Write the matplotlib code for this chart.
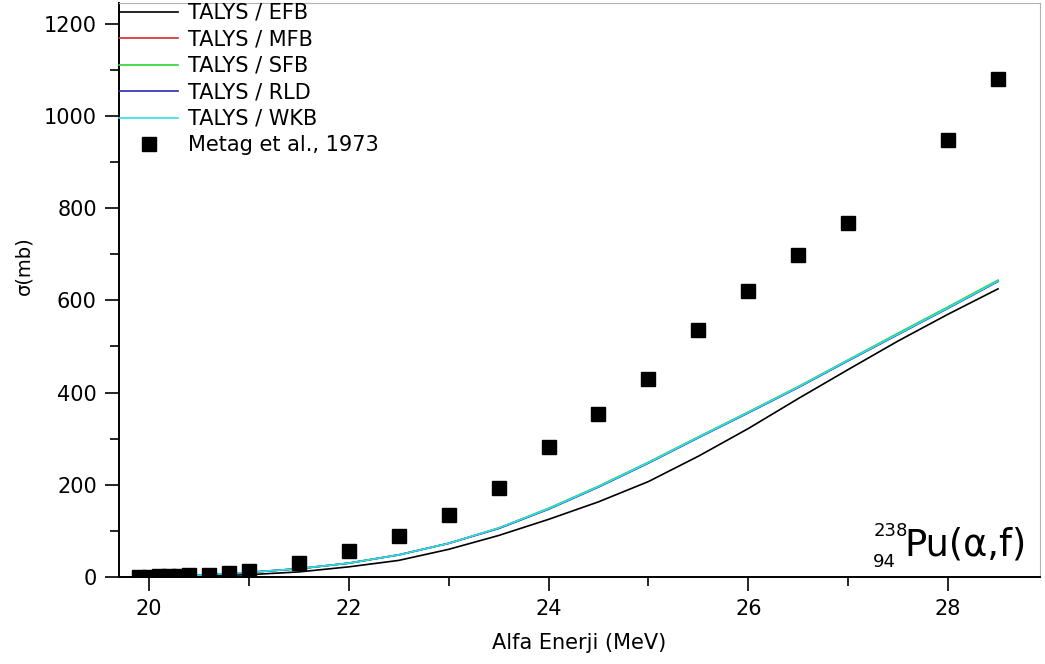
import matplotlib
matplotlib.use("Agg")
import matplotlib.pyplot as plt
from matplotlib.ticker import MultipleLocator

plt.rcParams['font.family'] = ['DejaVu Sans']

# TALYS calculations (energy in MeV, cross section in mb)
energy = [20.0, 20.5, 21.0, 21.5, 22.0, 22.5, 23.0, 23.5, 24.0, 24.5,
          25.0, 25.5, 26.0, 26.5, 27.0, 27.5, 28.0, 28.5]
efb = [0.5, 2, 5, 11, 22, 36, 60, 90, 125, 163, 207, 262, 322, 387, 450, 512, 570, 625]
mfb = [1, 4, 10, 18, 30, 48, 73, 106, 148, 196, 248, 303, 357, 412, 470, 527, 584, 642]
sfb = [1, 4, 10, 18, 30, 48, 73, 106, 149, 197, 249, 304, 358, 413, 471, 529, 586, 644]
rld = [1, 4, 10, 18, 30, 48, 73, 105, 147, 195, 247, 302, 356, 411, 469, 526, 583, 641]
wkb = [1, 4, 10, 18, 30, 48, 73, 106, 148, 196, 248, 303, 357, 412, 470, 527, 584, 642]

# Experimental data: Metag et al., 1973
exp_e = [19.9, 20.0, 20.1, 20.2, 20.3, 20.4, 20.6, 20.8, 21.0, 21.5, 22.0, 22.5,
         23.0, 23.5, 24.0, 24.5, 25.0, 25.5, 26.0, 26.5, 27.0, 28.0, 28.5]
exp_s = [0.5, 1, 1.5, 2, 3, 4, 5, 9, 13, 30, 57, 89,
         135, 193, 282, 354, 430, 536, 621, 698, 767, 948, 1080]

fig = plt.figure(figsize=(10.45, 6.64), dpi=100)
ax = fig.add_axes([119/1045, 87/664, (1040-119)/1045, (577-3)/664])

ax.plot(energy, efb, color='black', lw=1.2, label='TALYS / EFB')
ax.plot(energy, mfb, color='#d42a2a', lw=1.2, label='TALYS / MFB')
ax.plot(energy, sfb, color='#2ed42e', lw=1.2, label='TALYS / SFB')
ax.plot(energy, rld, color='#2a2ab4', lw=1.2, label='TALYS / RLD')
ax.plot(energy, wkb, color='#2ee0e8', lw=1.2, label='TALYS / WKB')
ax.plot(exp_e, exp_s, 's', color='black', ms=10, ls='none', label='Metag et al., 1973')

ax.set_xlim(19.70, 28.92)
ax.set_ylim(0, 1245)
ax.xaxis.set_major_locator(MultipleLocator(2))
ax.xaxis.set_minor_locator(MultipleLocator(1))
ax.yaxis.set_major_locator(MultipleLocator(200))
ax.yaxis.set_minor_locator(MultipleLocator(100))
ax.tick_params(which='major', direction='out', length=10, width=1.2, labelsize=15, pad=6)
ax.tick_params(which='minor', direction='out', length=6.5, width=1.2)
ax.tick_params(axis='y', which='both', right=False)
ax.tick_params(axis='x', which='both', top=False)

for s in ['left', 'bottom']:
    ax.spines[s].set_linewidth(1.4)
for s in ['top', 'right']:
    ax.spines[s].set_color('#b0b0b0')
    ax.spines[s].set_linewidth(0.8)

ax.set_xlabel('Alfa Enerji (MeV)', fontsize=15, labelpad=10)
ax.set_ylabel('σ(mb)', fontsize=14)
ax.yaxis.set_label_coords(-0.093, 0.542)

leg = ax.legend(loc='upper left', bbox_to_anchor=(0.0, 1.0), frameon=False,
                fontsize=15, handlelength=2.85, handletextpad=0.48,
                labelspacing=0.31, borderaxespad=0.0, borderpad=0.0,
                markerscale=0.95)

ax.text(0.819, 0.080, '238', transform=ax.transAxes, fontsize=13, ha='left', va='center')
ax.text(0.819, 0.026, '94', transform=ax.transAxes, fontsize=13, ha='left', va='center')
ax.text(0.853, 0.038, 'Pu(α,f)', transform=ax.transAxes, fontsize=26.5, ha='left', va='baseline')

fig.savefig('out.png', dpi=100)
